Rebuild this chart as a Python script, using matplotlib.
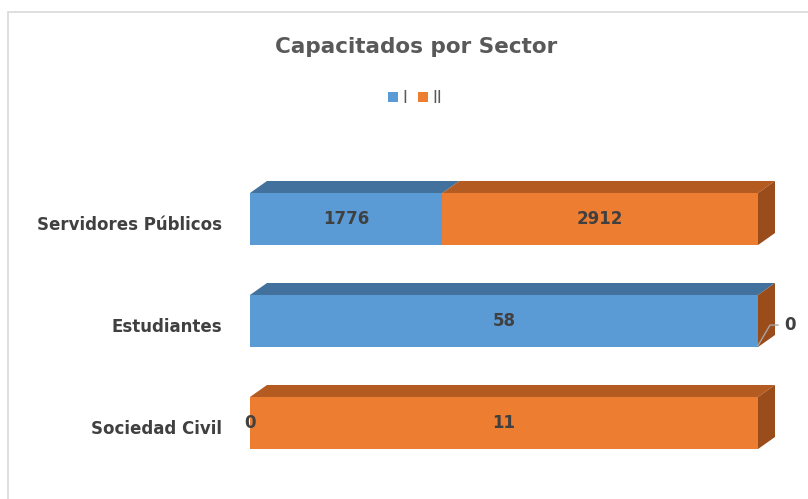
import matplotlib.pyplot as plt
from matplotlib.patches import Polygon, Rectangle, Patch

# datos
sectores = ['Servidores Públicos', 'Estudiantes', 'Sociedad Civil']
serie_i = [1776, 58, 0]
serie_ii = [2912, 0, 11]
series = ['I', 'II']

azul = '#5B9BD5'
naranja = '#ED7D31'
azul_top = '#41719C'
naranja_top = '#B45B22'
naranja_lado = '#9A4C1B'
gris = '#595959'
texto = '#404040'

plt.rcParams['font.family'] = ['DejaVu Sans']

fig = plt.figure(figsize=(8.08, 4.99), dpi=100)
fig.patches.append(Rectangle((8 / 808, -0.1), 1.2, 1 - 12 / 499 + 0.1,
                             transform=fig.transFigure, fill=False,
                             edgecolor='#D9D9D9', linewidth=1.2))

ax = fig.add_axes([250 / 808, 1 - 474 / 499, 508 / 808, 306 / 499])
ax.set_xlim(0, 1)
ax.set_ylim(2.5, -0.5)
ax.axis('off')

alto = 0.51
dx = 17 / 508
dy = 12 / 102

for i, sector in enumerate(sectores):
    total = serie_i[i] + serie_ii[i]
    p1 = serie_i[i] / total
    p2 = serie_ii[i] / total
    ax.barh(i, p1, height=alto, color=azul, left=0)
    ax.barh(i, p2, height=alto, color=naranja, left=p1)
    yt = i - alto / 2
    yb = i + alto / 2
    # caras superiores
    for x0, w, c in [(0, p1, azul_top), (p1, p2, naranja_top)]:
        if w > 0:
            ax.add_patch(Polygon([(x0, yt), (x0 + dx, yt - dy), (x0 + w + dx, yt - dy), (x0 + w, yt)],
                                 closed=True, facecolor=c, edgecolor='none', clip_on=False))
    # cara lateral
    ax.add_patch(Polygon([(1, yt), (1 + dx, yt - dy), (1 + dx, yb - dy), (1, yb)],
                         closed=True, facecolor=naranja_lado, edgecolor='none', clip_on=False))
    # etiquetas de valor
    if p1 > 0:
        ax.text(p1 / 2, i, str(serie_i[i]), ha='center', va='center',
                fontsize=12, fontweight='bold', color=texto)
    if p2 > 0:
        ax.text(p1 + p2 / 2, i, str(serie_ii[i]), ha='center', va='center',
                fontsize=12, fontweight='bold', color=texto)
    # etiqueta de categoria
    ax.text(-28 / 508, i + 0.06, sector, ha='right', va='center',
            fontsize=12, fontweight='bold', color=texto)

# ceros
ax.plot([1, 1 + 12 / 508, 1 + 20 / 508], [1 + 0.24, 1 + 0.04, 1 + 0.04],
        color='#A6A6A6', lw=1, clip_on=False)
ax.text(1 + 26 / 508, 1.04, str(serie_ii[1]), ha='left', va='center',
        fontsize=12, fontweight='bold', color=texto)
ax.text(0, 2.0, str(serie_i[2]), ha='center', va='center',
        fontsize=12, fontweight='bold', color=texto)

fig.text(416 / 808, 1 - 47 / 499, 'Capacitados por Sector', ha='center', va='center',
         fontsize=15.5, fontweight='bold', color=gris)

handles = [Patch(facecolor=azul), Patch(facecolor=naranja)]
fig.legend(handles, series, loc='center', bbox_to_anchor=(415 / 808, 1 - 98 / 499),
           ncol=2, frameon=False, fontsize=12, handlelength=0.6, handleheight=0.6,
           handletextpad=0.3, columnspacing=0.6, labelcolor=gris)

fig.savefig('out.png', dpi=100)
